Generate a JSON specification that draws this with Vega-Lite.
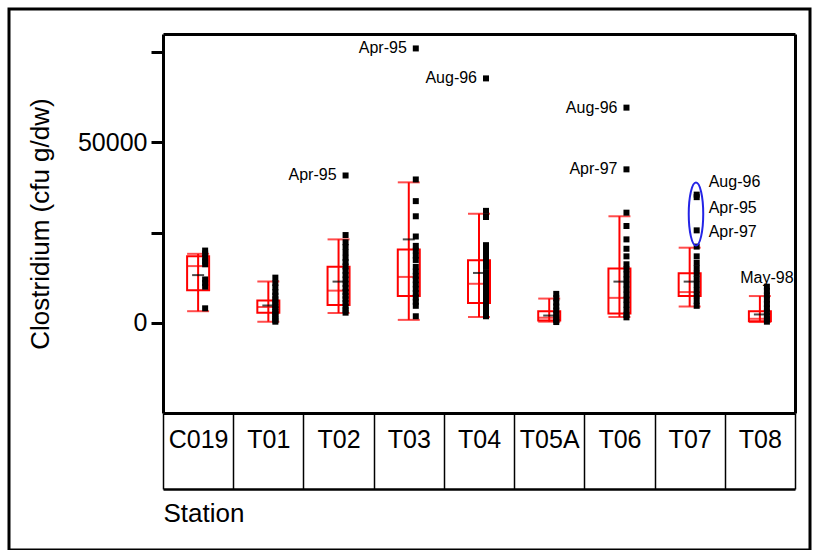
{
  "$schema": "https://vega.github.io/schema/vega-lite/v6.json",
  "width": 801,
  "height": 541,
  "autosize": {"type": "none"},
  "padding": {"left": 9, "top": 9, "right": 4, "bottom": 0},
  "background": "white",
  "config": {
    "view": {"stroke": "black", "strokeWidth": 3},
    "font": "Liberation Sans",
    "axis": {"labelFont": "Liberation Sans", "titleFont": "Liberation Sans", "labelColor": "black", "titleColor": "black", "domainColor": "black", "tickColor": "black", "grid": false}
  },
  "datasets": {
    "summary": [
      {"station": "C019", "lower": 3200, "q1": 9000, "median": 15700, "q3": 18400, "upper": 19100, "mean": 13200},
      {"station": "T01", "lower": 300, "q1": 2800, "median": 4400, "q3": 6200, "upper": 11400, "mean": 4800},
      {"station": "T02", "lower": 2700, "q1": 4900, "median": 8900, "q3": 15500, "upper": 23100, "mean": 11400},
      {"station": "T03", "lower": 800, "q1": 7400, "median": 12700, "q3": 20300, "upper": 38900, "mean": 23100},
      {"station": "T04", "lower": 1600, "q1": 5500, "median": 10800, "q3": 17300, "upper": 30200, "mean": 13800},
      {"station": "T05A", "lower": 300, "q1": 600, "median": 1400, "q3": 3200, "upper": 6700, "mean": 2000},
      {"station": "T06", "lower": 1600, "q1": 2600, "median": 6900, "q3": 15000, "upper": 29500, "mean": 11400},
      {"station": "T07", "lower": 4500, "q1": 7400, "median": 8500, "q3": 13700, "upper": 20800, "mean": 11400},
      {"station": "T08", "lower": 200, "q1": 400, "median": 1100, "q3": 3200, "upper": 7400, "mean": 2300}
    ],
    "points": [
      {"station": "C019", "value": 20000}, {"station": "C019", "value": 19200}, {"station": "C019", "value": 18000}, {"station": "C019", "value": 17000}, {"station": "C019", "value": 16200}, {"station": "C019", "value": 12000}, {"station": "C019", "value": 11000}, {"station": "C019", "value": 10000}, {"station": "C019", "value": 4000},
      {"station": "T01", "value": 12500}, {"station": "T01", "value": 11000}, {"station": "T01", "value": 9800}, {"station": "T01", "value": 8500}, {"station": "T01", "value": 7500}, {"station": "T01", "value": 6500}, {"station": "T01", "value": 5800}, {"station": "T01", "value": 5000}, {"station": "T01", "value": 4300}, {"station": "T01", "value": 3600}, {"station": "T01", "value": 3000}, {"station": "T01", "value": 2400}, {"station": "T01", "value": 1800}, {"station": "T01", "value": 1200}, {"station": "T01", "value": 700}, {"station": "T01", "value": 300},
      {"station": "T02", "value": 40800}, {"station": "T02", "value": 24300}, {"station": "T02", "value": 22300}, {"station": "T02", "value": 21000}, {"station": "T02", "value": 19500}, {"station": "T02", "value": 18000}, {"station": "T02", "value": 16800}, {"station": "T02", "value": 15600}, {"station": "T02", "value": 14400}, {"station": "T02", "value": 13200}, {"station": "T02", "value": 12000}, {"station": "T02", "value": 10800}, {"station": "T02", "value": 9600}, {"station": "T02", "value": 8500}, {"station": "T02", "value": 7500}, {"station": "T02", "value": 6500}, {"station": "T02", "value": 5500}, {"station": "T02", "value": 4500}, {"station": "T02", "value": 3500}, {"station": "T02", "value": 2800},
      {"station": "T03", "value": 76000}, {"station": "T03", "value": 39700}, {"station": "T03", "value": 33700}, {"station": "T03", "value": 29500}, {"station": "T03", "value": 23900}, {"station": "T03", "value": 21300}, {"station": "T03", "value": 20000}, {"station": "T03", "value": 18600}, {"station": "T03", "value": 17400}, {"station": "T03", "value": 15500}, {"station": "T03", "value": 14200}, {"station": "T03", "value": 13000}, {"station": "T03", "value": 11800}, {"station": "T03", "value": 10600}, {"station": "T03", "value": 9400}, {"station": "T03", "value": 8200}, {"station": "T03", "value": 7000}, {"station": "T03", "value": 5800}, {"station": "T03", "value": 4700}, {"station": "T03", "value": 1800},
      {"station": "T04", "value": 67700}, {"station": "T04", "value": 31000}, {"station": "T04", "value": 29300}, {"station": "T04", "value": 21500}, {"station": "T04", "value": 20000}, {"station": "T04", "value": 18500}, {"station": "T04", "value": 17000}, {"station": "T04", "value": 15500}, {"station": "T04", "value": 14000}, {"station": "T04", "value": 12600}, {"station": "T04", "value": 11200}, {"station": "T04", "value": 9800}, {"station": "T04", "value": 8400}, {"station": "T04", "value": 7000}, {"station": "T04", "value": 5600}, {"station": "T04", "value": 4200}, {"station": "T04", "value": 3000}, {"station": "T04", "value": 1800},
      {"station": "T05A", "value": 8000}, {"station": "T05A", "value": 6800}, {"station": "T05A", "value": 5600}, {"station": "T05A", "value": 4500}, {"station": "T05A", "value": 3400}, {"station": "T05A", "value": 2400}, {"station": "T05A", "value": 1500}, {"station": "T05A", "value": 700}, {"station": "T05A", "value": 200},
      {"station": "T06", "value": 59600}, {"station": "T06", "value": 42500}, {"station": "T06", "value": 30500}, {"station": "T06", "value": 26800}, {"station": "T06", "value": 23100}, {"station": "T06", "value": 20500}, {"station": "T06", "value": 18400}, {"station": "T06", "value": 16200}, {"station": "T06", "value": 14800}, {"station": "T06", "value": 13400}, {"station": "T06", "value": 12000}, {"station": "T06", "value": 10600}, {"station": "T06", "value": 9200}, {"station": "T06", "value": 7800}, {"station": "T06", "value": 6400}, {"station": "T06", "value": 5000}, {"station": "T06", "value": 3600}, {"station": "T06", "value": 2200}, {"station": "T06", "value": 1500},
      {"station": "T07", "value": 35500}, {"station": "T07", "value": 34800}, {"station": "T07", "value": 25600}, {"station": "T07", "value": 21100}, {"station": "T07", "value": 18400}, {"station": "T07", "value": 16600}, {"station": "T07", "value": 15100}, {"station": "T07", "value": 13600}, {"station": "T07", "value": 12100}, {"station": "T07", "value": 10600}, {"station": "T07", "value": 9100}, {"station": "T07", "value": 7600}, {"station": "T07", "value": 6100}, {"station": "T07", "value": 4700},
      {"station": "T08", "value": 10000}, {"station": "T08", "value": 8800}, {"station": "T08", "value": 7600}, {"station": "T08", "value": 6400}, {"station": "T08", "value": 5200}, {"station": "T08", "value": 4000}, {"station": "T08", "value": 2900}, {"station": "T08", "value": 1900}, {"station": "T08", "value": 1000}, {"station": "T08", "value": 300}
    ],
    "labels_left": [
      {"station": "T02", "value": 40800, "label": "Apr-95"},
      {"station": "T03", "value": 76000, "label": "Apr-95"},
      {"station": "T04", "value": 67700, "label": "Aug-96"},
      {"station": "T06", "value": 59600, "label": "Aug-96"},
      {"station": "T06", "value": 42500, "label": "Apr-97"}
    ],
    "labels_right": [
      {"station": "T07", "value": 39100, "label": "Aug-96"},
      {"station": "T07", "value": 31900, "label": "Apr-95"},
      {"station": "T07", "value": 25200, "label": "Apr-97"}
    ],
    "labels_top": [
      {"station": "T08", "value": 12500, "label": "May-98"}
    ],
    "ellipse": [
      {"station": "T07", "value": 30100}
    ]
  },
  "resolve": {"axis": {"x": "independent", "y": "independent"}},
  "layer": [
    {
      "data": {"name": "summary"},
      "mark": {"type": "bar", "width": 22, "filled": false, "stroke": "#ff0000", "strokeWidth": 2},
      "encoding": {
        "x": {"field": "station", "type": "nominal", "sort": null,
          "scale": {"type": "band", "domain": ["C019", "T01", "T02", "T03", "T04", "T05A", "T06", "T07", "T08"], "range": [154, 786], "paddingInner": 0, "paddingOuter": 0},
          "axis": {"orient": "bottom", "offset": -137, "title": null, "domainWidth": 3, "tickBand": "extent", "tickSize": 76, "tickWidth": 1.5, "labelFontSize": 25, "labelPadding": -62, "labelAngle": 0, "labelOverlap": false}},
        "y": {"field": "q1", "type": "quantitative",
          "scale": {"domain": [-25000, 80000], "range": [404, 25], "nice": false, "zero": false},
          "axis": {"orient": "left", "offset": -154, "title": "Clostridium (cfu g/dw)", "values": [0, 25000, 50000, 75000], "format": "d", "labelExpr": "datum.value === 0 || datum.value === 50000 ? datum.label : ''", "tickSize": 12, "tickWidth": 3, "domainWidth": 3, "labelFontSize": 25, "labelPadding": 4, "titleFontSize": 26, "titleFontWeight": "normal", "titlePadding": 24}},
        "y2": {"field": "q3"}
      }
    },
    {
      "data": {"name": "summary"},
      "mark": {"type": "rule", "color": "#ff0000", "strokeWidth": 2},
      "encoding": {
        "x": {"field": "station", "type": "nominal", "axis": {"orient": "top", "offset": -25, "title": null, "labels": false, "ticks": false, "domainWidth": 3}},
        "y": {"field": "lower", "type": "quantitative", "axis": {"orient": "right", "offset": -15, "title": null, "labels": false, "ticks": false, "domainWidth": 3}},
        "y2": {"field": "upper"}
      }
    },
    {
      "data": {"name": "summary"},
      "mark": {"type": "tick", "color": "#ff0000", "size": 22, "thickness": 2},
      "encoding": {
        "x": {"field": "station", "type": "nominal", "axis": null},
        "y": {"field": "lower", "type": "quantitative", "axis": null}
      }
    },
    {
      "data": {"name": "summary"},
      "mark": {"type": "tick", "color": "#ff0000", "size": 22, "thickness": 2},
      "encoding": {
        "x": {"field": "station", "type": "nominal", "axis": null},
        "y": {"field": "upper", "type": "quantitative", "axis": null}
      }
    },
    {
      "data": {"name": "summary"},
      "mark": {"type": "tick", "color": "#ff0000", "size": 22, "thickness": 2},
      "encoding": {
        "x": {"field": "station", "type": "nominal", "axis": null},
        "y": {"field": "median", "type": "quantitative", "axis": null}
      }
    },
    {
      "data": {"name": "points"},
      "mark": {"type": "point", "shape": "square", "filled": true, "color": "black", "size": 36, "opacity": 1},
      "encoding": {
        "x": {"field": "station", "type": "nominal", "bandPosition": 0.6,
          "axis": {"orient": "bottom", "offset": -61, "title": "Station", "labels": false, "ticks": false, "domainWidth": 2.5, "titleFontSize": 26, "titleFontWeight": "normal", "titleAnchor": "start", "titleAlign": "left", "titlePadding": 11}},
        "y": {"field": "value", "type": "quantitative", "axis": null}
      }
    },
    {
      "data": {"name": "summary"},
      "mark": {"type": "tick", "color": "black", "size": 12, "thickness": 2},
      "encoding": {
        "x": {"field": "station", "type": "nominal", "axis": null},
        "y": {"field": "mean", "type": "quantitative", "axis": null}
      }
    },
    {
      "data": {"name": "labels_left"},
      "mark": {"type": "text", "align": "right", "baseline": "middle", "dx": -9, "fontSize": 16, "font": "Liberation Sans", "color": "black"},
      "encoding": {
        "x": {"field": "station", "type": "nominal", "bandPosition": 0.6, "axis": null},
        "y": {"field": "value", "type": "quantitative", "axis": null},
        "text": {"field": "label"}
      }
    },
    {
      "data": {"name": "labels_right"},
      "mark": {"type": "text", "align": "left", "baseline": "middle", "dx": 12, "fontSize": 16, "font": "Liberation Sans", "color": "black"},
      "encoding": {
        "x": {"field": "station", "type": "nominal", "bandPosition": 0.6, "axis": null},
        "y": {"field": "value", "type": "quantitative", "axis": null},
        "text": {"field": "label"}
      }
    },
    {
      "data": {"name": "labels_top"},
      "mark": {"type": "text", "align": "center", "baseline": "middle", "fontSize": 16, "font": "Liberation Sans", "color": "black"},
      "encoding": {
        "x": {"field": "station", "type": "nominal", "bandPosition": 0.6, "axis": null},
        "y": {"field": "value", "type": "quantitative", "axis": null},
        "text": {"field": "label"}
      }
    },
    {
      "data": {"name": "ellipse"},
      "mark": {"type": "point", "shape": "M0,-1A0.23,1,0,1,1,0,1A0.23,1,0,1,1,0,-1Z", "size": 3969, "filled": false, "stroke": "#2424e6", "strokeWidth": 2, "opacity": 1},
      "encoding": {
        "x": {"field": "station", "type": "nominal", "bandPosition": 0.59, "axis": null},
        "y": {"field": "value", "type": "quantitative", "axis": null}
      }
    }
  ]
}
